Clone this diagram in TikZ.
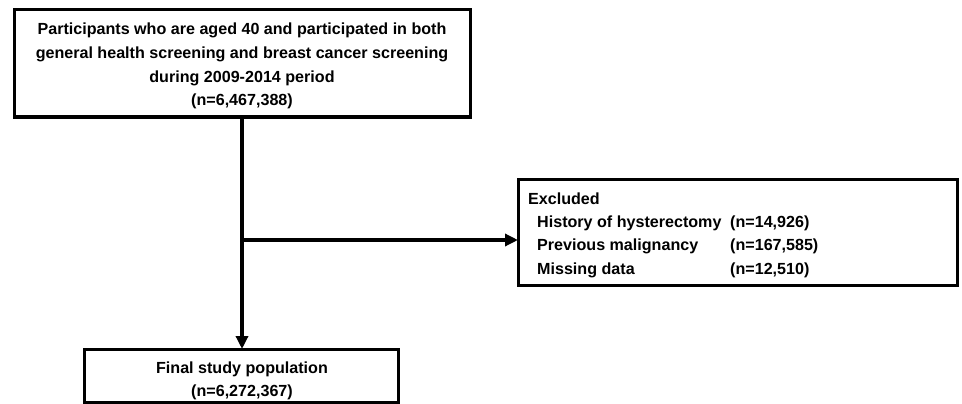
\documentclass[tikz,border=0pt]{standalone}
\usepackage{fontspec}
\setmainfont{Liberation Sans}
\usetikzlibrary{arrows.meta}
\begin{document}
\begin{tikzpicture}[x=1pt,y=-1pt,
  boxstyle/.style={draw=black, line width=3pt},
  txt/.style={font=\bfseries\fontsize{16.1}{19}\selectfont, inner sep=0pt, anchor=base},
  ltxt/.style={font=\bfseries\fontsize{16.1}{19}\selectfont, inner sep=0pt, anchor=base west},
  conn/.style={line width=4pt},
  arr/.style={line width=4pt, -{Triangle[length=13pt,width=12pt]}}]
\useasboundingbox (0,0) rectangle (962,404);
\clip (0,0) rectangle (962,404);
% boxes
\draw[boxstyle] (14,10) rectangle (470,117);
\coordinate (topb) at (242,117);
\draw[boxstyle] (518,179) rectangle (957,285);
\coordinate (exl) at (518,240);
\draw[boxstyle] (84,349) rectangle (398,402);
\coordinate (bott) at (242,349);
\coordinate (junc) at (242,240);
% top text
\node[txt] (t1) at (242,35) {Participants who are aged 40 and participated in both};
\node[txt] (t2) at (242,59) {general health screening and breast cancer screening};
\node[txt] (t3) at (242,82) {during 2009-2014 period};
\node[txt] (t4) at (242,106) {(n=6,467,388)};
% excluded
\node[ltxt] (e0) at (528,204) {Excluded};
\node[ltxt] (e1) at (537,227) {History of hysterectomy};
\node[ltxt] (e2) at (537,250) {Previous malignancy};
\node[ltxt] (e3) at (537,274) {Missing data};
\node[ltxt] (n1) at (730,227) {(n=14,926)};
\node[ltxt] (n2) at (730,250) {(n=167,585)};
\node[ltxt] (n3) at (730,274) {(n=12,510)};
% bottom
\node[txt] (b1) at (242,373) {Final study population};
\node[txt] (b2) at (242,396) {(n=6,272,367)};
% connectors
\draw[arr] (topb) -- (bott);
\draw[arr] (junc) -- (exl);
\end{tikzpicture}
\end{document}
